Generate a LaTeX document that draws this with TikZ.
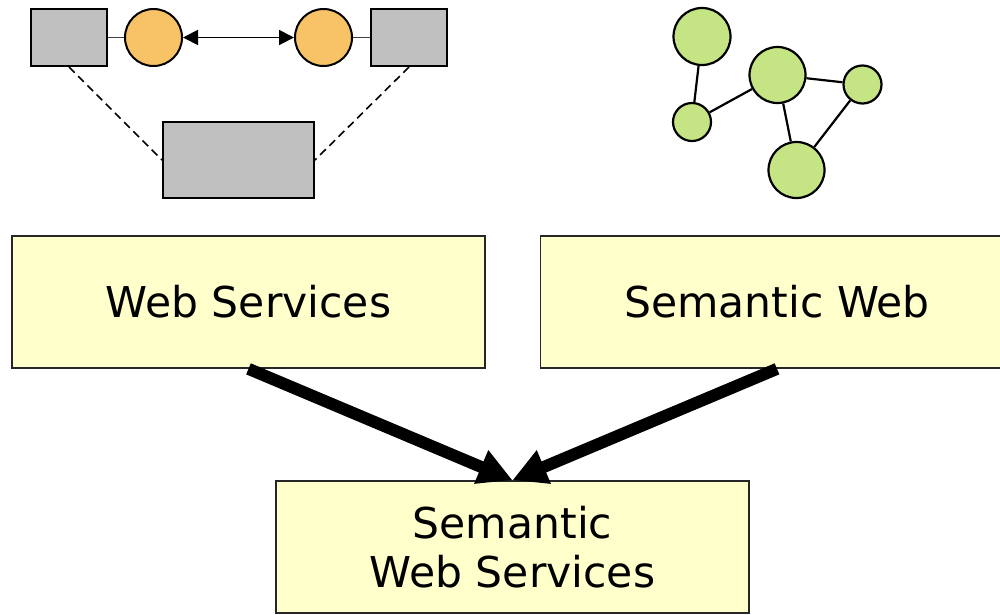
\documentclass[tikz,border=0pt]{standalone}
\usepackage{fontspec}
\setmainfont{DejaVu Sans}
\usetikzlibrary{arrows.meta}
\definecolor{boxgrey}{HTML}{C0C0C0}
\definecolor{peer}{HTML}{F8C266}
\definecolor{ontnode}{HTML}{C5E585}
\definecolor{pale}{HTML}{FFFFCC}
\tikzset{
  greybox/.style={draw=black, fill=boxgrey, line width=2pt, inner sep=0pt},
  peernode/.style={circle, draw=black, fill=peer, line width=2pt, inner sep=0pt, minimum size=57pt},
  gnode/.style={circle, draw=black, fill=ontnode, line width=2.2pt, inner sep=0pt},
  gedge/.style={line width=2.2pt},
  concept/.style={draw=black!85, fill=pale, line width=1.7pt, inner sep=0pt,
    minimum width=473pt, minimum height=132pt, align=center,
    font=\fontsize{42.5}{49}\selectfont},
  bigarrow/.style={line width=12pt, -{Triangle[length=34pt,width=34pt]}},
  thin/.style={line width=1.8pt},
}
\begin{document}
\begin{tikzpicture}[x=1pt, y=-1pt]
\useasboundingbox (0,0) rectangle (1000,614);
\clip (0,0) rectangle (1000,614);
\fill[white] (0,0) rectangle (1000,614);

% web service choreography sketch
\node[greybox, minimum width=76pt, minimum height=57pt] (r1) at (69,37.5) {};
\node[greybox, minimum width=76pt, minimum height=57pt] (r2) at (409,37.5) {};
\node[greybox, minimum width=151pt, minimum height=76pt] (r3) at (238.5,160) {};
\node[peernode] (c1) at (153.5,37.5) {};
\node[peernode] (c2) at (323.5,37.5) {};
\draw[thin, black!75] (r1.east) -- (c1.west);
\draw[thin, black!75] (c2.east) -- (r2.west);
\draw[line width=1.8pt, {Triangle[length=15pt,width=15pt]}-{Triangle[length=15pt,width=15pt]}] (c1) -- (c2);
\draw[line width=1.6pt, dash pattern=on 8pt off 5pt] (r1.south) -- (r3.west);
\draw[line width=1.6pt, dash pattern=on 8pt off 5pt] (r2.south) -- (r3.east);

% semantic graph sketch
\node[gnode, minimum size=57pt] (ga) at (702,36.5) {};
\node[gnode, minimum size=38pt] (gb) at (692,122) {};
\node[gnode, minimum size=56pt] (gc) at (777.5,75) {};
\node[gnode, minimum size=38pt] (gd) at (862.5,84.5) {};
\node[gnode, minimum size=56pt] (ge) at (796.5,170) {};
\draw[gedge] (ga) -- (gb);
\draw[gedge] (gb) -- (gc);
\draw[gedge] (gc) -- (gd);
\draw[gedge] (gc) -- (ge);
\draw[gedge] (gd) -- (ge);

% concept boxes
\node[concept] (ws) at (248.5,302) {Web Services};
\node[concept] (sw) at (777,302) {Semantic Web};
\node[concept] (sws) at (512.5,547) {Semantic\\Web Services};

\draw[bigarrow] (ws.south) -- (sws.north);
\draw[bigarrow] (sw.south) -- (sws.north);
\end{tikzpicture}
\end{document}
